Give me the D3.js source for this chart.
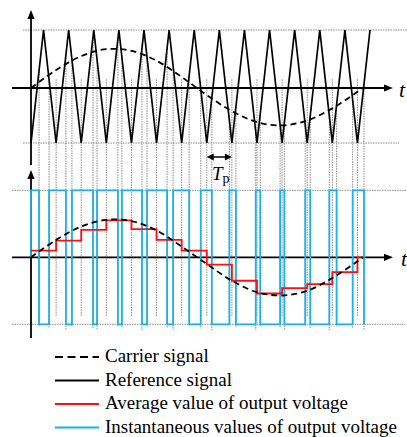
<!DOCTYPE html>
<html><head><meta charset="utf-8">
<script src="https://cdn.jsdelivr.net/npm/d3@7"></script>
<style>
html,body{margin:0;padding:0;background:#fff;}
svg{display:block;}
</style></head>
<body>
<script>
// ---- data (time in carrier periods, values normalised to +/-1) ----
const carrierT = [0,0.5,1,1.5,2,2.5,3,3.5,4,4.5,5,5.5,6,6.5,7,7.5,8,8.5,9,9.5,10,10.5,11,11.5,12,12.5,13,13.5];
const carrierV = [-1,1,-1,1,-1,1,-1,1,-1,1,-1,1,-1,1,-1,1,-1,1,-1,1,-1,1,-1,1,-1,1,-1,1];
const sineT    = [0,1,2,3,4,5,6,7,8,9,10,11,12,13,13.22];
const sineTop  = [0,0.31,0.55,0.67,0.64,0.47,0.19,-0.13,-0.42,-0.62,-0.68,-0.59,-0.37,-0.07,0];
const sineBot  = [0,0.26,0.46,0.56,0.54,0.40,0.16,-0.10,-0.35,-0.52,-0.57,-0.50,-0.31,-0.06,0];
const pwmT     = [0,0,0.32,0.72,1.39,1.63,2.47,2.63,3.46,3.62,4.42,4.62,5.42,5.66,6.30,6.76,7.20,7.90,8.16,8.95,9.13,9.92,10.09,10.92,11.12,11.88,12.17,12.81,13.26];
const pwmV     = [0,1,-1,1,-1,1,-1,1,-1,1,-1,1,-1,1,-1,1,-1,1,-1,1,-1,1,-1,1,-1,1,-1,1,-1];
const avgT     = [0,1,2,3,4,5,6,7,8,9,10,11,12,13,13.22];
const avgV     = [0.10,0.25,0.41,0.55,0.42,0.26,0.10,-0.11,-0.35,-0.54,-0.46,-0.40,-0.22,0,0];
const valleyT  = [1,2,3,4,5,6,7,8,9,10,11,12,13];
const legendLabels = ["Carrier signal","Reference signal","Average value of output voltage","Instantaneous values of output voltage"];
const axisLabel = "t";

const FONT='"Liberation Serif","Times New Roman",Times,serif';
const W=407,H=437;
const svg=d3.select("body").append("svg").attr("width",W).attr("height",H);

const x=d3.scaleLinear().domain([0,13.5]).range([31,370]);
const yTop=d3.scaleLinear().domain([-1,0,1]).range([143,88,30]);
const yBot=d3.scaleLinear().domain([-1,0,1]).range([324.3,257.3,190.3]);
const carrierAt=d3.scaleLinear().domain(carrierT).range(carrierV);

const gridC="#8a8a8a";
[[yTop(1),23,407],[yTop(-1),23,399],[yBot(1),12,407],[yBot(-1),12,405]].forEach(([yy,x1,x2])=>{
  svg.append("line").attr("x1",x1).attr("x2",x2).attr("y1",yy).attr("y2",yy)
    .attr("stroke",gridC).attr("stroke-width",1).attr("stroke-dasharray","1.5,1");
});
const sw=pwmT.slice(2);
svg.append("g").selectAll("line").data(sw).join("line")
  .attr("x1",d=>x(d)).attr("x2",d=>x(d))
  .attr("y1",d=>yTop(carrierAt(d)))
  .attr("y2",(d,i)=>yBot(-1)+ (i%3)*2+2)
  .attr("stroke",gridC).attr("stroke-width",1).attr("stroke-dasharray","1.5,1");
svg.append("g").selectAll("line").data(valleyT).join("line")
  .attr("x1",d=>x(d)).attr("x2",d=>x(d))
  .attr("y1",d=>yTop(0.15)).attr("y2",d=>yBot(-0.88))
  .attr("stroke",gridC).attr("stroke-width",1).attr("stroke-dasharray","1.5,1");

function arrowUp(cx,tipY){svg.append("path").attr("d",`M${cx},${tipY} L${cx-3.6},${tipY+9} L${cx+3.6},${tipY+9} Z`).attr("fill","#000");}
function arrowRight(tipX,cy){svg.append("path").attr("d",`M${tipX},${cy} L${tipX-9},${cy-3.6} L${tipX-9},${cy+3.6} Z`).attr("fill","#000");}
svg.append("line").attr("x1",x(0)).attr("x2",x(0)).attr("y1",16).attr("y2",165).attr("stroke","#000").attr("stroke-width",1.8);
arrowUp(x(0),10);
svg.append("line").attr("x1",12).attr("x2",386).attr("y1",yTop(0)).attr("y2",yTop(0)).attr("stroke","#000").attr("stroke-width",1.8);
arrowRight(393,yTop(0));
svg.append("line").attr("x1",x(0)).attr("x2",x(0)).attr("y1",176).attr("y2",338).attr("stroke","#000").attr("stroke-width",1.8);
arrowUp(x(0),170);
svg.append("line").attr("x1",12).attr("x2",386).attr("y1",yBot(0)).attr("y2",yBot(0)).attr("stroke","#000").attr("stroke-width",1.8);
arrowRight(393,yBot(0));
svg.append("text").attr("x",399).attr("y",97).attr("font-family",FONT).attr("font-size",22).attr("font-style","italic").text(axisLabel);
svg.append("text").attr("x",401).attr("y",266).attr("font-family",FONT).attr("font-size",22).attr("font-style","italic").text(axisLabel);

const tri=carrierT.map((t,i)=>[t,carrierV[i]]);
svg.append("path").attr("d",d3.line().x(d=>x(d[0])).y(d=>yTop(d[1]))(tri))
  .attr("fill","none").attr("stroke","#000").attr("stroke-width",1.7);
const sTop=sineT.map((t,i)=>[t,sineTop[i]]);
svg.append("path").attr("d",d3.line().curve(d3.curveCatmullRom).x(d=>x(d[0])).y(d=>yTop(d[1]))(sTop))
  .attr("fill","none").attr("stroke","#000").attr("stroke-width",1.8).attr("stroke-dasharray","6,4");

const pw=pwmT.map((t,i)=>[t,pwmV[i]]);
svg.append("path").attr("d",d3.line().curve(d3.curveStepAfter).x(d=>x(d[0])).y(d=>yBot(d[1]))(pw))
  .attr("fill","none").attr("stroke","#19b2ea").attr("stroke-width",1.8);
const av=avgT.map((t,i)=>[t,avgV[i]]);
svg.append("path").attr("d",d3.line().curve(d3.curveStepAfter).x(d=>x(d[0])).y(d=>yBot(d[1]))(av))
  .attr("fill","none").attr("stroke","#ff1010").attr("stroke-width",1.8);
const sBot=sineT.map((t,i)=>[t,sineBot[i]]);
svg.append("path").attr("d",d3.line().curve(d3.curveCatmullRom).x(d=>x(d[0])).y(d=>yBot(d[1]))(sBot))
  .attr("fill","none").attr("stroke","#000").attr("stroke-width",1.8).attr("stroke-dasharray","6,4");

const tp0=x(7), tp1=x(8), tpy=157;
svg.append("line").attr("x1",tp0+6).attr("x2",tp1-6).attr("y1",tpy).attr("y2",tpy).attr("stroke","#000").attr("stroke-width",1.5);
svg.append("path").attr("d",`M${tp0},${tpy} L${tp0+7},${tpy-3.5} L${tp0+7},${tpy+3.5} Z`).attr("fill","#000");
svg.append("path").attr("d",`M${tp1},${tpy} L${tp1-7},${tpy-3.5} L${tp1-7},${tpy+3.5} Z`).attr("fill","#000");
const tpText=svg.append("text").attr("x",212).attr("y",180).attr("font-family",FONT).attr("font-size",19);
tpText.append("tspan").attr("font-style","italic").text("T");
tpText.append("tspan").attr("font-size",14).attr("dy",3).text("p");

const lg=svg.append("g");
const styles=[{c:"#000",d:"8,4.5"},{c:"#000",d:null},{c:"#ff1010",d:null},{c:"#19b2ea",d:null}];
const texts=[];
legendLabels.forEach((lab,i)=>{
  const yy=357+i*23.5;
  const l=lg.append("line").attr("x1",55).attr("x2",99).attr("y1",yy).attr("y2",yy)
    .attr("stroke",styles[i].c).attr("stroke-width",2);
  if(styles[i].d) l.attr("stroke-dasharray",styles[i].d);
  texts.push(lg.append("text").attr("x",105).attr("y",yy+5).attr("font-family",FONT).attr("font-size",18).text(lab));
});
const maxW=d3.max(texts,t=>t.node().getComputedTextLength());
if(maxW>0){const fs=Math.min(19.5,18*292/maxW); texts.forEach(t=>t.attr("font-size",fs));}
</script>
</body></html>
